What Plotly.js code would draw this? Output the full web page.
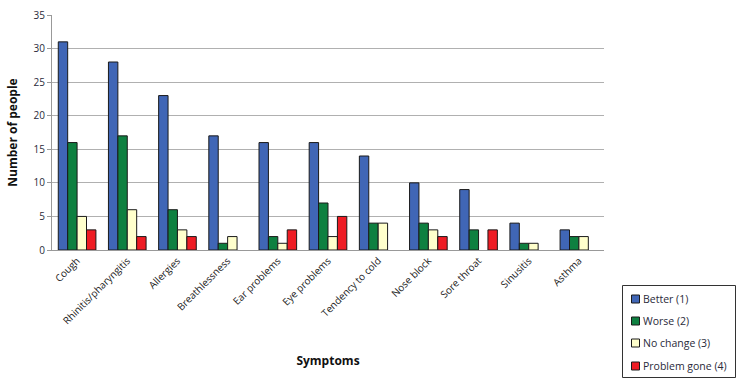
<!DOCTYPE html>
<html><head><meta charset="utf-8">
<script src="https://cdn.plot.ly/plotly-3.0.1.min.js"></script>
<style>html,body{margin:0;padding:0;background:#fff;}#chart{width:742px;height:381px;}</style>
</head><body><div id="chart"></div>
<script>
const categories = ["Cough","Rhinitis/pharyngitis","Allergies","Breathlessness","Ear problems","Eye problems","Tendency to cold","Nose block","Sore throat","Sinusitis","Asthma"];
const better = [31,28,23,17,16,16,14,10,9,4,3];
const worse = [16,17,6,1,2,7,4,4,3,1,2];
const noChange = [5,6,3,2,1,2,4,3,0,1,2];
const problemGone = [3,2,2,0,3,5,0,2,3,0,0];
const seriesNames = ["Better (1)","Worse (2)","No change (3)","Problem gone (4)"];
const colors = ["#4066B6","#0E8040","#FFFFCC","#EE1C24"];
const series = [better, worse, noChange, problemGone];

// zero-valued bars are not drawn in the original (slot left empty)
const traces = series.map((vals, i) => ({
  type: "bar", x: categories, y: vals.map(v => v === 0 ? null : v), name: seriesNames[i],
  marker: {color: colors[i], line: {color: "#1a1a1a", width: 1}},
  showlegend: false
}));

const font = "Open Sans, Liberation Sans, sans-serif";

// Manual legend (small square keys close to the text, like the original)
const W = 552, H = 235, L = 52, T = 15;
const px = x => (x - L) / W;
const py = y => (T + H - y) / H;
const shapes = [{
  type: "rect", xref: "paper", yref: "paper",
  x0: px(622.5), x1: px(735.5), y0: py(377.5), y1: py(285.5),
  line: {color: "#333", width: 1}, fillcolor: "#fff"
}];
const annotations = [];
const rowY = [299, 321, 343, 366];
seriesNames.forEach((name, i) => {
  shapes.push({type: "rect", xref: "paper", yref: "paper",
    x0: px(631.5), x1: px(639.5), y0: py(rowY[i] + 4), y1: py(rowY[i] - 4),
    line: {color: "#1a1a1a", width: 1}, fillcolor: colors[i]});
  annotations.push({xref: "paper", yref: "paper", x: px(641), y: py(rowY[i]),
    xanchor: "left", yanchor: "middle", showarrow: false, text: name,
    font: {family: font, size: 10.5, color: "#2a2a3a"}});
});

const layout = {
  width: 742, height: 381,
  margin: {l: 52, r: 138, t: 15, b: 131},
  paper_bgcolor: "#fff", plot_bgcolor: "#fff",
  barmode: "group", bargap: 0.25, bargroupgap: 0,
  font: {family: font, size: 10, color: "#222"},
  showlegend: false,
  shapes: shapes, annotations: annotations,
  xaxis: {
    tickangle: -45, showline: true, linecolor: "#999", linewidth: 1,
    ticks: "", showgrid: false, automargin: false,
    tickfont: {family: font, size: 10, color: "#1a1a1a"},
    title: {text: "<b>Symptoms</b>", font: {family: font, size: 12, color: "#111"}, standoff: 30}
  },
  yaxis: {
    range: [0, 35], dtick: 5, showline: true, linecolor: "#999", linewidth: 1,
    ticks: "outside", ticklen: 4, tickcolor: "#999",
    showgrid: true, gridcolor: "#b0b0b0", gridwidth: 1, zeroline: false,
    automargin: false,
    tickfont: {family: font, size: 10, color: "#2a2a3a"},
    title: {text: "<b>Number of people</b>", font: {family: font, size: 12, color: "#111"}, standoff: 13}
  }
};
Plotly.newPlot("chart", traces, layout, {displayModeBar: false, staticPlot: true});
</script></body></html>
